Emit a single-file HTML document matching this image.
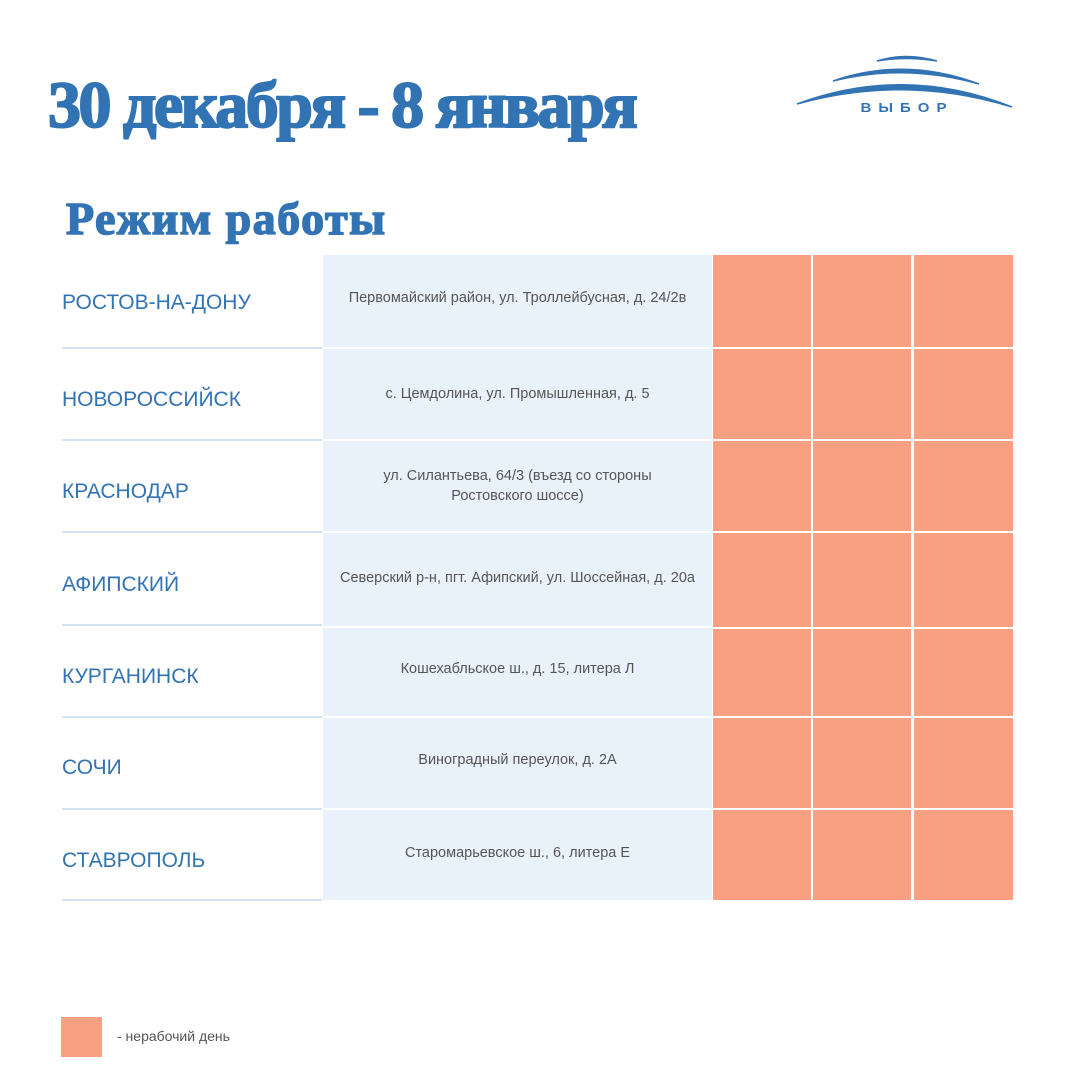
<!DOCTYPE html>
<html><head><meta charset="utf-8"><style>
body{margin:0;width:1080px;height:1080px;background:#fff;position:relative;overflow:hidden;font-family:"Liberation Sans","Noto Sans CJK SC",sans-serif}
.a{position:absolute}
.t{font-family:"Liberation Serif","Noto Serif CJK SC",serif;font-weight:bold;color:#3273b3;white-space:nowrap;-webkit-text-stroke:2px #3273b3}
.city{position:absolute;left:62px;color:#3273b3;font-size:21px;white-space:nowrap}
.line{position:absolute;left:62px;width:260px;height:2px;background:#d2e2f4}
.addr{position:absolute;left:323px;width:389px;background:#e9f1fb;color:#555;font-size:14.5px;display:flex;align-items:center;justify-content:center;text-align:center;line-height:20px}
.o{position:absolute;background:#f9a083}
</style></head><body>
<div class="a t" style="left:48px;top:66px;font-size:66px;letter-spacing:-2.5px;line-height:80px">30 декабря - 8 января</div>
<div class="a t" style="left:66px;top:192px;font-size:46px;letter-spacing:1.5px;line-height:54px;-webkit-text-stroke:1.5px #3273b3">Режим работы</div>
<svg class="a" style="left:795px;top:50px" width="220" height="70">
<path d="M82 11 Q 110 2 142 11 Q 110 6 82 11Z" stroke="#3273b3" stroke-width="1.5" fill="#3273b3"/>
<path d="M38 31 Q 110 6 184 34 Q 110 13 38 31Z" stroke="#3273b3" stroke-width="1.5" fill="#3273b3"/>
<path d="M2 54 Q 110 14 217 57 Q 110 24 2 54Z" stroke="#3273b3" stroke-width="1.5" fill="#3273b3"/>
<text x="112" y="62" text-anchor="middle" font-family="Liberation Sans" font-weight="bold" font-size="15" letter-spacing="7" fill="#3273b3" transform="translate(112 0) scale(1 0.85) translate(-112 11)">ВЫБОР</text>
</svg>
<div class="city" style="top:291px">РОСТОВ-НА-ДОНУ</div>
<div class="city" style="top:388px">НОВОРОССИЙСК</div>
<div class="city" style="top:480px">КРАСНОДАР</div>
<div class="city" style="top:573px">АФИПСКИЙ</div>
<div class="city" style="top:665px">КУРГАНИНСК</div>
<div class="city" style="top:756px">СОЧИ</div>
<div class="city" style="top:849px">СТАВРОПОЛЬ</div>
<div class="line" style="top:347px"></div>
<div class="line" style="top:439px"></div>
<div class="line" style="top:531px"></div>
<div class="line" style="top:624px"></div>
<div class="line" style="top:716px"></div>
<div class="line" style="top:808px"></div>
<div class="line" style="top:899px"></div>
<div class="addr" style="top:255px;height:92px;padding-bottom:6px;box-sizing:border-box">Первомайский район, ул. Троллейбусная, д. 24/2в</div>
<div class="addr" style="top:349px;height:90px">с. Цемдолина, ул. Промышленная, д. 5</div>
<div class="addr" style="top:441px;height:90px">ул. Силантьева, 64/3 (въезд со стороны<br>Ростовского шоссе)</div>
<div class="addr" style="top:533px;height:93px;padding-bottom:4px;box-sizing:border-box">Северский р-н, пгт. Афипский, ул. Шоссейная, д. 20а</div>
<div class="addr" style="top:628px;height:88px;padding-bottom:6px;box-sizing:border-box">Кошехабльское ш., д. 15, литера Л</div>
<div class="addr" style="top:718px;height:90px;padding-bottom:6px;box-sizing:border-box">Виноградный переулок, д. 2А</div>
<div class="addr" style="top:810px;height:90px;padding-bottom:4px;box-sizing:border-box">Старомарьевское ш., 6, литера Е</div>
<div id="grid"></div>
<script>
var tops=[[255,347],[349,439],[441,531],[533,627],[629,716],[718,808],[810,900]];
var cols=[[713,811],[813,911],[914,1013]];
var h='';tops.forEach(function(r){cols.forEach(function(c){h+='<div class="o" style="left:'+c[0]+'px;width:'+(c[1]-c[0])+'px;top:'+r[0]+'px;height:'+(r[1]-r[0])+'px"></div>';});});
document.getElementById('grid').innerHTML=h;
</script>
<div class="o" style="left:61px;top:1017px;width:41px;height:40px"></div>
<div class="a" style="left:117px;top:1028px;font-size:14px;color:#555">- нерабочий день</div>
</body></html>
